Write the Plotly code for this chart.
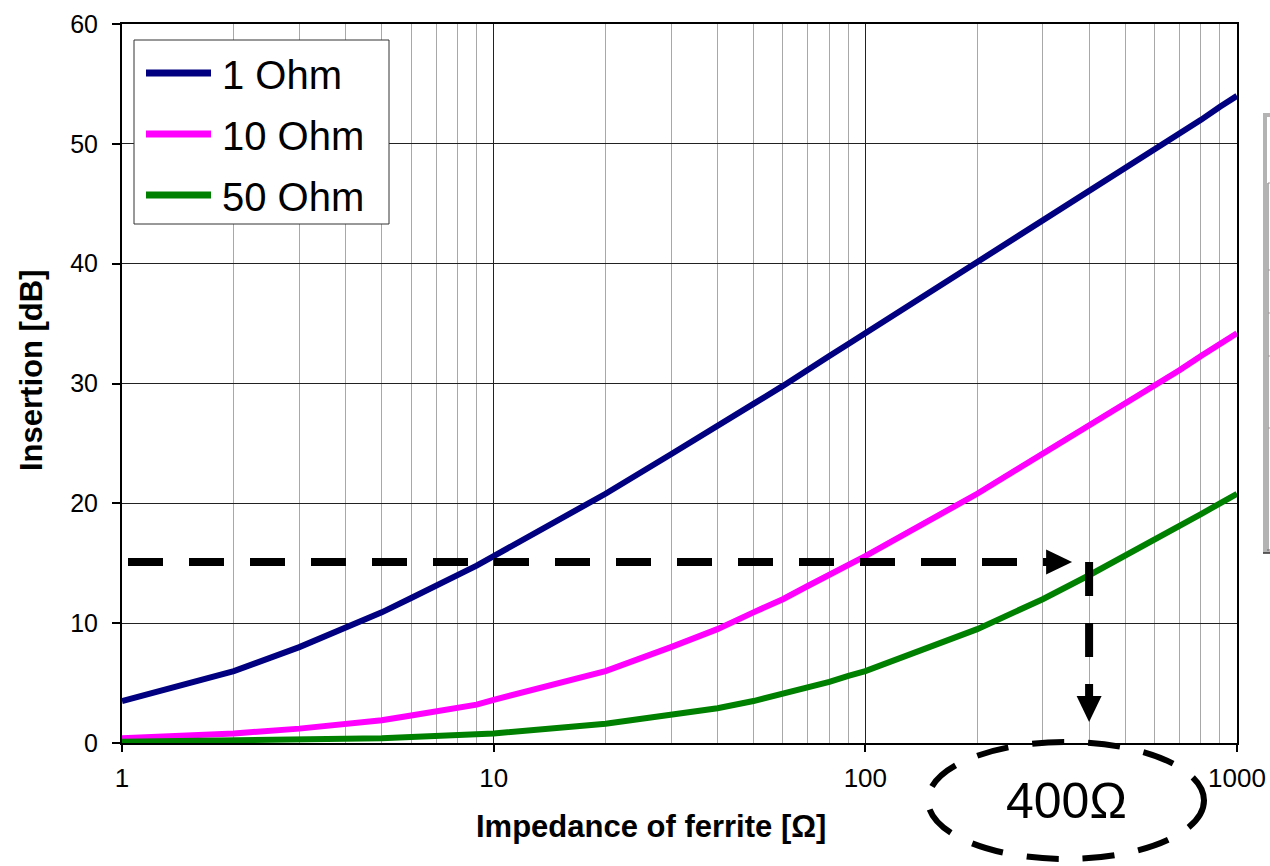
import math
import plotly.graph_objects as go

# ---------------- data ----------------
impedance = [1, 2, 3, 4, 5, 6, 7, 8, 9, 10,
             20, 30, 40, 50, 60, 70, 80, 90, 100,
             200, 300, 400, 500, 600, 700, 800, 900, 1000]
ohm_1 = [3.5, 6.0, 8.0, 9.6, 10.9, 12.1, 13.1, 14.0, 14.8, 15.6,
         20.8, 24.1, 26.4, 28.3, 29.8, 31.2, 32.3, 33.3, 34.2,
         40.1, 43.6, 46.0, 48.0, 49.6, 50.9, 52.0, 53.1, 54.0]
ohm_10 = [0.4, 0.8, 1.2, 1.6, 1.9, 2.3, 2.6, 2.9, 3.2, 3.6,
          6.0, 8.0, 9.5, 10.9, 12.0, 13.1, 14.0, 14.8, 15.6,
          20.8, 24.1, 26.4, 28.3, 29.8, 31.1, 32.3, 33.3, 34.2]
ohm_50 = [0.1, 0.2, 0.3, 0.3, 0.4, 0.5, 0.6, 0.7, 0.8, 0.8,
          1.6, 2.3, 2.9, 3.5, 4.1, 4.7, 5.1, 5.6, 6.0,
          9.5, 12.0, 14.0, 15.6, 16.9, 18.1, 19.1, 20.0, 20.8]
series_names = ["1 Ohm", "10 Ohm", "50 Ohm"]
series_colors = ["#000080", "#FF00FF", "#008000"]
y_ticks = [0, 10, 20, 30, 40, 50, 60]
x_ticks = [1, 10, 100, 1000]
x_title = "Impedance of ferrite [\u03a9]"
y_title = "Insertion [dB]"

target_db = 15.1      # horizontal read-off level
target_ohm = 400      # resulting impedance
callout_text = "400\u03a9"

# ---------------- layout geometry ----------------
W, H = 1270, 866
L, R, T, B = 122, 33, 24, 123
PW, PH = W - L - R, H - T - B
FONT = "Liberation Sans, Arial, sans-serif"


def px_x(px):
    return (px - L) / PW


def px_y(py):
    return (H - B - py) / PH


fig = go.Figure()
for name, vals, col in zip(series_names, [ohm_1, ohm_10, ohm_50], series_colors):
    fig.add_trace(go.Scatter(x=impedance, y=vals, mode="lines", name=name,
                             line=dict(color=col, width=6), showlegend=False))

shapes = []
annotations = []

# custom legend box
shapes.append(dict(type="rect", xref="paper", yref="paper",
                   x0=px_x(134), x1=px_x(389), y0=px_y(224), y1=px_y(40),
                   line=dict(color="#333333", width=1), fillcolor="white", layer="above"))
for i, (name, col) in enumerate(zip(series_names, series_colors)):
    yc = 73 + 61 * i
    shapes.append(dict(type="line", xref="paper", yref="paper",
                       x0=px_x(146), x1=px_x(211), y0=px_y(yc), y1=px_y(yc),
                       line=dict(color=col, width=7), layer="above"))
    annotations.append(dict(text=name, xref="paper", yref="paper",
                            x=px_x(220), y=px_y(yc + 2), xanchor="left", yanchor="middle",
                            showarrow=False, font=dict(size=40, color="black", family=FONT)))

# axis titles
annotations.append(dict(text=f"<b>{x_title}</b>", xref="paper", yref="paper",
                        x=px_x(651), y=px_y(827), xanchor="center", yanchor="middle",
                        showarrow=False, font=dict(size=31, color="black", family=FONT)))
annotations.append(dict(text=f"<b>{y_title}</b>", xref="paper", yref="paper",
                        x=px_x(31), y=px_y(370), xanchor="center", yanchor="middle",
                        textangle=-90,
                        showarrow=False, font=dict(size=31, color="black", family=FONT)))

# dashed read-off arrows
ax_px = L + math.log10(target_ohm) / 3 * PW
ay_px = H - B - target_db / 60 * PH
shapes.append(dict(type="line", xref="paper", yref="paper",
                   x0=px_x(L + 6), x1=px_x(ax_px - 42), y0=px_y(ay_px), y1=px_y(ay_px),
                   line=dict(color="black", width=8, dash="35px,26px"), layer="above"))
hx0, hx1 = ax_px - 43, ax_px - 17
shapes.append(dict(type="path", xref="paper", yref="paper",
                   path=f"M {px_x(hx0)},{px_y(ay_px - 12.5)} L {px_x(hx1)},{px_y(ay_px)} "
                        f"L {px_x(hx0)},{px_y(ay_px + 12.5)} Z",
                   fillcolor="black", line=dict(color="black", width=0), layer="above"))
shapes.append(dict(type="line", xref="paper", yref="paper",
                   x0=px_x(ax_px), x1=px_x(ax_px), y0=px_y(ay_px), y1=px_y(697),
                   line=dict(color="black", width=8, dash="34px,27px"), layer="above"))
shapes.append(dict(type="path", xref="paper", yref="paper",
                   path=f"M {px_x(ax_px - 12.5)},{px_y(696)} L {px_x(ax_px)},{px_y(722)} "
                        f"L {px_x(ax_px + 12.5)},{px_y(696)} Z",
                   fillcolor="black", line=dict(color="black", width=0), layer="above"))

# dashed ellipse with value
shapes.append(dict(type="circle", xref="paper", yref="paper",
                   x0=px_x(928), x1=px_x(1204), y0=px_y(859), y1=px_y(742),
                   line=dict(color="black", width=6, dash="32px,24px"), layer="above"))
annotations.append(dict(text=callout_text, xref="paper", yref="paper",
                        x=px_x(1066), y=px_y(801), xanchor="center", yanchor="middle",
                        showarrow=False,
                        font=dict(size=50, color="black",
                                  family="Liberation Sans Narrow, Arial Narrow, Liberation Sans, Arial")))

# clipped gray frame at right edge
shapes.append(dict(type="rect", xref="paper", yref="paper",
                   x0=px_x(1265), x1=px_x(1300), y0=px_y(551), y1=px_y(115),
                   line=dict(color="#b3b3b3", width=4), fillcolor="white", layer="above"))
shapes.append(dict(type="line", xref="paper", yref="paper",
                   x0=px_x(1268), x1=px_x(1268), y0=px_y(551), y1=px_y(183),
                   line=dict(color="#666666", width=1), layer="above"))
shapes.append(dict(type="line", xref="paper", yref="paper",
                   x0=px_x(1263), x1=px_x(1272), y0=px_y(553), y1=px_y(553),
                   line=dict(color="#333333", width=1.5), layer="above"))
for yy in [183, 270, 313, 356, 428]:
    shapes.append(dict(type="line", xref="paper", yref="paper",
                       x0=px_x(1268), x1=px_x(1272), y0=px_y(yy), y1=px_y(yy),
                       line=dict(color="#999999", width=1), layer="above"))

fig.update_layout(
    width=W, height=H,
    margin=dict(l=L, r=R, t=T, b=B, pad=0, autoexpand=False),
    paper_bgcolor="white", plot_bgcolor="white",
    font=dict(family=FONT, color="black"),
    shapes=shapes, annotations=annotations,
    showlegend=False,
)
fig.update_xaxes(
    type="log", range=[0, 3], tickvals=x_ticks, ticktext=[str(v) for v in x_ticks],
    showgrid=True, gridcolor="#222222", gridwidth=1,
    minor=dict(dtick="D1", showgrid=True, gridcolor="#a8a8a8", gridwidth=1, ticks=""),
    showline=True, linecolor="black", linewidth=2, mirror=True,
    ticks="outside", ticklen=7, tickcolor="black", tickwidth=1.5,
    tickfont=dict(size=26, family=FONT), ticklabelstandoff=4,
    zeroline=False, automargin=False,
)
fig.update_yaxes(
    range=[0, 60], tickvals=y_ticks,
    showgrid=True, gridcolor="#222222", gridwidth=1,
    showline=True, linecolor="black", linewidth=2, mirror=True,
    ticks="outside", ticklen=8, tickcolor="black", tickwidth=1.5,
    tickfont=dict(size=25, family=FONT), ticklabelstandoff=9,
    zeroline=False, automargin=False,
)

fig.write_html("out.html")
